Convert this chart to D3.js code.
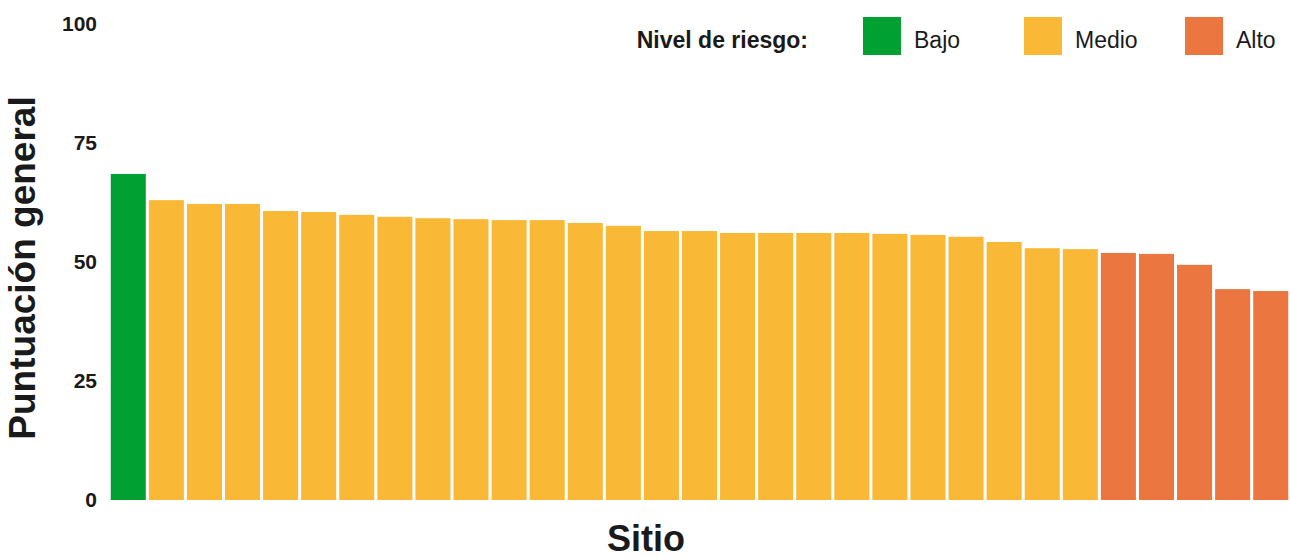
<!DOCTYPE html>
<html>
<head>
<meta charset="utf-8">
<script src="https://cdn.jsdelivr.net/npm/d3@7"></script>
<style>
  body { margin: 0; background: #fff; }
  text { font-family: "Liberation Sans", Arial, sans-serif; fill: #1a1a1a; }
</style>
</head>
<body>
<svg id="chart" width="1290" height="559"></svg>
<script>
// puntuación por sitio, ordenada de mayor a menor
const scores = [68.5, 63.0, 62.2, 62.2, 60.7, 60.5, 59.9, 59.5, 59.2, 59.0, 58.8, 58.8, 58.2, 57.6, 56.5, 56.5,
  56.1, 56.1, 56.1, 56.1, 55.9, 55.7, 55.3, 54.2, 52.9, 52.7, 51.9, 51.7, 49.4, 44.3, 43.9];
const risk = ["Bajo", "Medio", "Medio", "Medio", "Medio", "Medio", "Medio", "Medio", "Medio", "Medio", "Medio",
  "Medio", "Medio", "Medio", "Medio", "Medio", "Medio", "Medio", "Medio", "Medio", "Medio", "Medio", "Medio",
  "Medio", "Medio", "Medio", "Alto", "Alto", "Alto", "Alto", "Alto"];
const riskLevels = ["Bajo", "Medio", "Alto"];
const riskColors = ["#00a032", "#f9b835", "#ec763f"];
const yTicks = [0, 25, 50, 75, 100];

const svg = d3.select("#chart");
const margin = { top: 24, right: 1, bottom: 59, left: 110 };
const W = 1290, H = 559;

const sites = scores.map((d, i) => i);
const x = d3.scaleBand().domain(sites).range([margin.left, W - margin.right]).paddingInner(0.08).paddingOuter(0.02);
const y = d3.scaleLinear().domain([0, 100]).range([H - margin.bottom, margin.top]);
const color = d3.scaleOrdinal().domain(riskLevels).range(riskColors);

svg.append("g").selectAll("rect").data(scores).join("rect")
  .attr("x", (d, i) => x(i))
  .attr("width", x.bandwidth())
  .attr("y", d => y(d))
  .attr("height", d => y(0) - y(d))
  .attr("fill", (d, i) => color(risk[i]));

const yAxis = svg.append("g")
  .attr("transform", `translate(${margin.left - 13},0)`)
  .call(d3.axisLeft(y).tickValues(yTicks).tickSize(0).tickPadding(0));
yAxis.select(".domain").remove();
yAxis.selectAll("text")
  .style("font-family", "'Liberation Sans', Arial, sans-serif")
  .style("font-size", "21px").style("font-weight", "bold").attr("fill", "#1a1a1a");

svg.append("text")
  .attr("transform", `translate(35,${(y(0) + y(100)) / 2 + 6}) rotate(-90)`)
  .attr("text-anchor", "middle")
  .style("font-size", "37px").style("font-weight", "bold")
  .text("Puntuación general");

svg.append("text")
  .attr("x", 646).attr("y", 551)
  .attr("text-anchor", "middle")
  .style("font-size", "36px").style("font-weight", "bold")
  .text("Sitio");

// leyenda
const legend = svg.append("g");
legend.append("text")
  .attr("x", 808).attr("y", 48).attr("text-anchor", "end")
  .style("font-size", "23px").style("font-weight", "bold")
  .text("Nivel de riesgo:");
const items = legend.selectAll("g.item").data(riskLevels).join("g")
  .attr("class", "item")
  .attr("transform", (d, i) => `translate(${863 + i * 161},17)`);
items.append("rect").attr("width", 38).attr("height", 38).attr("fill", d => color(d));
items.append("text").attr("x", 51).attr("y", 31)
  .style("font-size", "23px")
  .text(d => d);
</script>
</body>
</html>
